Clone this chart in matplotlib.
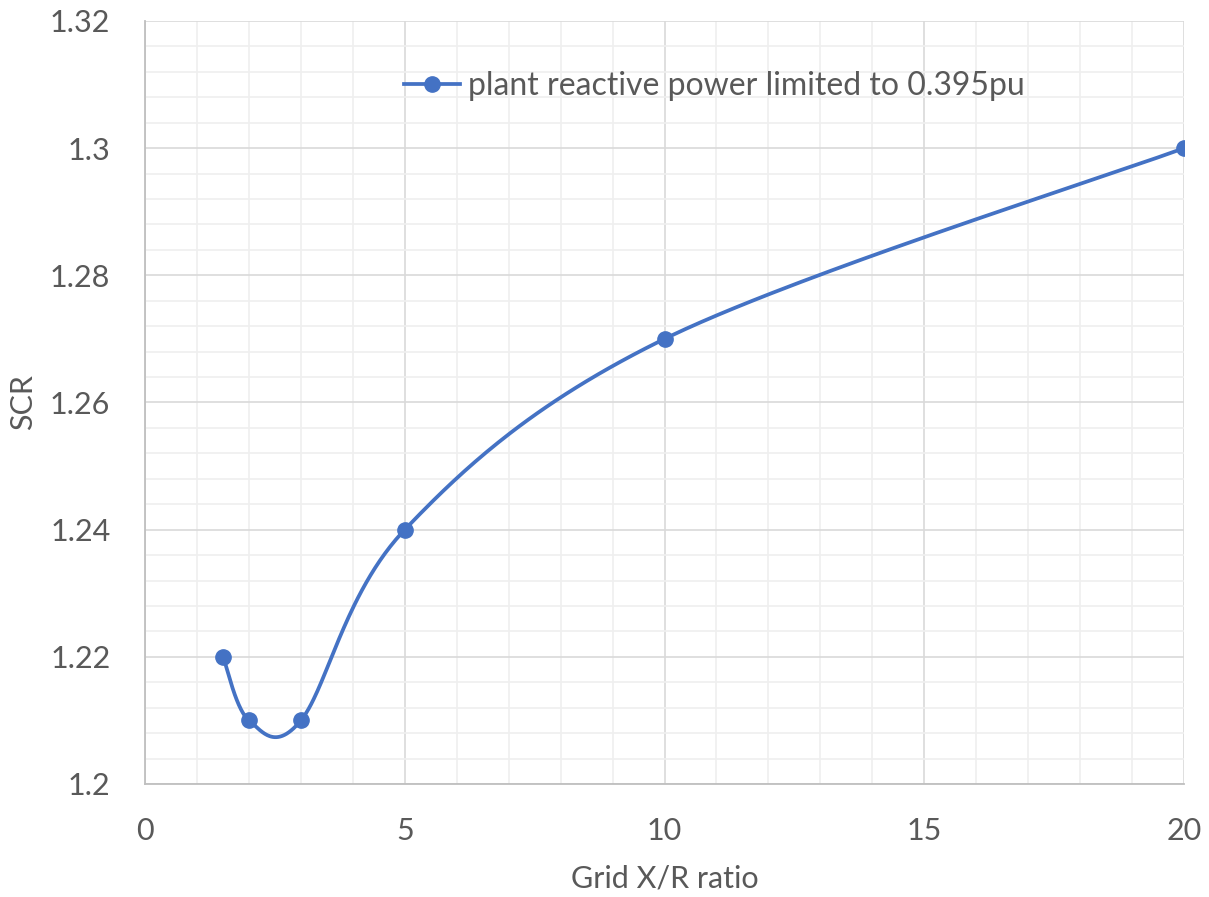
import numpy as np
import matplotlib
matplotlib.use("Agg")
import matplotlib.pyplot as plt
from matplotlib.ticker import MultipleLocator, FuncFormatter

# Grid X/R ratio vs. minimum short-circuit ratio
xr_ratio = [1.5, 2, 3, 5, 10, 20]
scr = [1.22, 1.21, 1.21, 1.24, 1.27, 1.30]
series_label = "plant reactive power limited to 0.395pu"

x_ticks = [0, 5, 10, 15, 20]
y_ticks = [1.2, 1.22, 1.24, 1.26, 1.28, 1.3, 1.32]

LINE = "#4472C4"
TEXT = "#595959"

plt.rcParams["font.family"] = ["Lato", "DejaVu Sans"]

fig = plt.figure(figsize=(12.09, 8.97), dpi=100)
ax = fig.add_axes([0.12, 0.126, 0.8593, 0.8506])
ax.set_xlim(0, 20)
ax.set_ylim(1.2, 1.32)


def smooth_curve(xs, ys, xr, yr, n=60):
    """Bezier smoothing through the points, with tangents from neighbours."""
    p = np.column_stack([(np.asarray(xs) - xr[0]) / (xr[1] - xr[0]),
                         (np.asarray(ys) - yr[0]) / (yr[1] - yr[0]) * 0.734])
    out = []
    k = len(p)
    for i in range(k - 1):
        p0 = p[i - 1] if i > 0 else p[i]
        p1, p2 = p[i], p[i + 1]
        p3 = p[i + 2] if i + 2 < k else p[i + 1]
        c1 = p1 + (p2 - p0) / 6.0
        c2 = p2 - (p3 - p1) / 6.0
        t = np.linspace(0, 1, n)[:, None]
        seg = ((1 - t) ** 3) * p1 + 3 * ((1 - t) ** 2) * t * c1 + 3 * (1 - t) * t ** 2 * c2 + t ** 3 * p2
        out.append(seg if i == 0 else seg[1:])
    c = np.vstack(out)
    cx = c[:, 0] * (xr[1] - xr[0]) + xr[0]
    cy = c[:, 1] / 0.734 * (yr[1] - yr[0]) + yr[0]
    return cx, cy


cx, cy = smooth_curve(xr_ratio, scr, (0, 20), (1.2, 1.32))
ax.plot(cx, cy, color=LINE, lw=2.7, solid_capstyle="round", zorder=3)
ax.plot(xr_ratio, scr, "o", color=LINE, ms=11, zorder=4)

# legend proxy: line with a marker
handle, = ax.plot([], [], "-o", color=LINE, lw=2.7, ms=11, label=series_label)
leg = ax.legend(handles=[handle], loc="center", bbox_to_anchor=(0.548, 0.915),
                frameon=False, fontsize=23, handlelength=1.75, handletextpad=0.25,
                labelcolor=TEXT)

ax.set_xticks(x_ticks)
ax.set_yticks(y_ticks)
ax.xaxis.set_minor_locator(MultipleLocator(1))
ax.yaxis.set_minor_locator(MultipleLocator(0.004))
ax.yaxis.set_major_formatter(FuncFormatter(lambda v, _: f"{v:.2f}".rstrip("0").rstrip(".")))

ax.grid(which="major", color="#D9D9D9", lw=1.2, zorder=1)
ax.grid(which="minor", color="#EFEFEF", lw=1.2, zorder=0)
ax.set_axisbelow(True)

for s in ("top", "right"):
    ax.spines[s].set_visible(False)
for s in ("left", "bottom"):
    ax.spines[s].set_color("#BFBFBF")
    ax.spines[s].set_linewidth(1.3)

ax.tick_params(which="both", length=0, labelsize=22, colors=TEXT)
ax.tick_params(axis="y", pad=25)
ax.tick_params(axis="x", pad=24)
ax.set_xlabel("Grid X/R ratio", fontsize=22, color=TEXT, labelpad=14)
ax.set_ylabel("SCR", fontsize=22, color=TEXT, labelpad=9)

fig.savefig("out.png", dpi=100)
